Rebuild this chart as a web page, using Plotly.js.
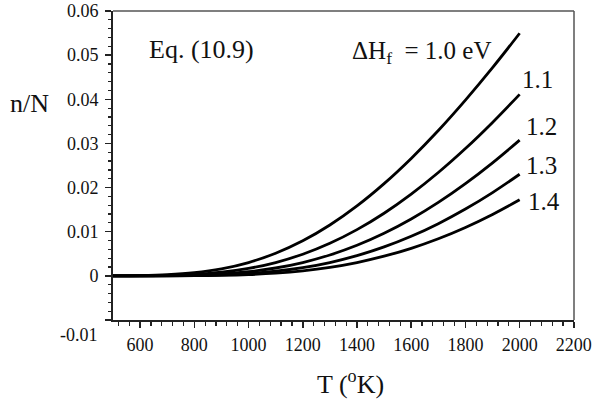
<!DOCTYPE html>
<html>
<head>
<meta charset="utf-8">
<script src="https://cdn.plot.ly/plotly-3.0.1.min.js"></script>
<style>html,body{margin:0;padding:0;background:#fff;}#chart{width:592px;height:402px;}</style>
</head>
<body>
<div id="chart"></div>
<script>
// Temperature (K)
var temps = [500, 600, 700, 800, 900, 1000, 1100, 1200, 1300, 1400, 1500, 1600, 1700, 1800, 1900, 2000];
// n/N
var dH10 = [0.0000091, 0.0000631, 0.000251, 0.000708, 0.001585, 0.00302, 0.00512, 0.00794, 0.01152, 0.01585, 0.02090, 0.02661, 0.03293, 0.03982, 0.04717, 0.05496];
var dH11 = [0.0000029, 0.0000240, 0.000110, 0.000343, 0.000832, 0.00169, 0.00302, 0.00490, 0.00738, 0.01047, 0.01419, 0.01852, 0.02341, 0.02884, 0.03476, 0.04112];
var dH12 = [0.0000009, 0.0000091, 0.0000479, 0.000166, 0.000437, 0.000946, 0.00178, 0.00302, 0.00472, 0.00692, 0.00964, 0.01288, 0.01664, 0.02090, 0.02561, 0.03076];
var dH13 = [0.0000003, 0.0000035, 0.0000209, 0.0000804, 0.000229, 0.000530, 0.00105, 0.00186, 0.00302, 0.00457, 0.00655, 0.00896, 0.01183, 0.01514, 0.01887, 0.02302];
var dH14 = [0.0000001, 0.0000013, 0.0000091, 0.0000389, 0.000120, 0.000297, 0.000621, 0.00115, 0.00193, 0.00302, 0.00445, 0.00624, 0.00841, 0.01097, 0.01391, 0.01722];
var curveLabels = ["1.1", "1.2", "1.3", "1.4"];
var yTickVals = [0.06, 0.05, 0.04, 0.03, 0.02, 0.01, 0, -0.01];
var yTickText = ["0.06", "0.05", "0.04", "0.03", "0.02", "0.01", "0", ""];
var xTickVals = [600, 800, 1000, 1200, 1400, 1600, 1800, 2000, 2200];
var xTickText = ["600", "800", "1000", "1200", "1400", "1600", "1800", "2000", "2200"];

var series = [dH10, dH11, dH12, dH13, dH14];
var traces = series.map(function (s) {
  return {
    x: temps, y: s, type: 'scatter', mode: 'lines',
    line: {color: '#000', width: 2.8, shape: 'spline', smoothing: 1},
    hoverinfo: 'skip', showlegend: false, cliponaxis: false
  };
});

var serif = 'Liberation Serif';
var labelPos = [
  {x: 2001, y: 0.0444}, {x: 2017, y: 0.0338}, {x: 2017, y: 0.0251}, {x: 2024, y: 0.0168}
];
function txt(size) { return {family: serif, size: size, color: '#111'}; }
var annotations = [
  {x: 827, y: 0.0512, xref: 'x', yref: 'y', xanchor: 'center', yanchor: 'middle', text: 'Eq. (10.9)', showarrow: false, font: txt(26)},
  {x: 1375, y: 0.0507, xref: 'x', yref: 'y', xanchor: 'left', yanchor: 'middle', text: 'ΔH<sub>f</sub>  = 1.0 eV', showarrow: false, font: txt(25)},
  {x: -0.181, y: 0.701, xref: 'paper', yref: 'paper', xanchor: 'center', yanchor: 'middle', text: 'n/N', showarrow: false, font: txt(26)},
  {x: 0.516, y: -0.201, xref: 'paper', yref: 'paper', xanchor: 'center', yanchor: 'middle', text: 'T (<sup>o</sup>K)', showarrow: false, font: txt(26)},
  {x: -0.028, y: -0.049, xref: 'paper', yref: 'paper', xanchor: 'right', yanchor: 'middle', text: '-0.01', showarrow: false, font: txt(18)}
];
curveLabels.forEach(function (t, i) {
  annotations.push({x: labelPos[i].x, y: labelPos[i].y, xref: 'x', yref: 'y', xanchor: 'left', yanchor: 'middle',
    text: t, showarrow: false, font: txt(25)});
});

var layout = {
  width: 592, height: 402,
  margin: {l: 113, r: 18, t: 11, b: 82},
  paper_bgcolor: '#fff', plot_bgcolor: '#fff',
  showlegend: false,
  font: txt(18),
  xaxis: {
    range: [500, 2200.5], tickmode: 'array', tickvals: xTickVals, ticktext: xTickText,
    showgrid: false, zeroline: false, showline: true, linecolor: '#222', linewidth: 2,
    ticks: 'outside', ticklen: 6, tickwidth: 1.5, tickcolor: '#222', ticklabelstandoff: 1,
    ticklabeloverflow: 'allow',
    minor: {dtick: 40, tick0: 0, ticks: 'outside', ticklen: 4, tickwidth: 1.2, tickcolor: '#222', showgrid: false},
    tickfont: txt(18), fixedrange: true
  },
  yaxis: {
    range: [-0.01, 0.06], tickmode: 'array', tickvals: yTickVals, ticktext: yTickText,
    showgrid: false, zeroline: false, showline: true, linecolor: '#222', linewidth: 2,
    ticks: 'outside', ticklen: 6, tickwidth: 1.5, tickcolor: '#222', ticklabelstandoff: 3,
    ticklabeloverflow: 'allow',
    minor: {dtick: 0.002, tick0: 0, ticks: 'outside', ticklen: 3, tickwidth: 1.2, tickcolor: '#222', showgrid: false},
    tickfont: txt(18), fixedrange: true
  },
  shapes: [
    {type: 'line', xref: 'paper', yref: 'paper', x0: 0, x1: 1, y0: 1, y1: 1, line: {color: '#555', width: 1.5}},
    {type: 'line', xref: 'paper', yref: 'paper', x0: 1, x1: 1, y0: 0, y1: 1, line: {color: '#555', width: 1.5}}
  ],
  annotations: annotations
};

Plotly.newPlot('chart', traces, layout, {displayModeBar: false, staticPlot: true});
</script>
</body>
</html>
